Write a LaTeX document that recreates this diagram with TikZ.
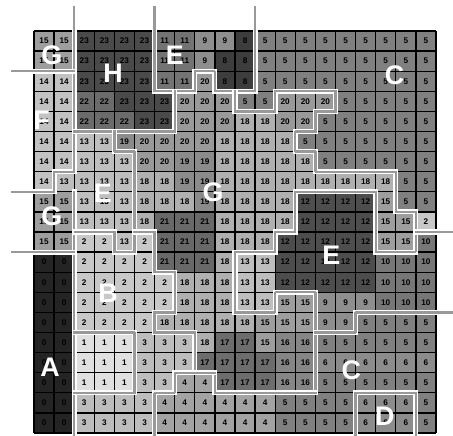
\documentclass[tikz,border=0pt]{standalone}
\usepackage{fontspec}
\setmainfont{Liberation Sans}
\usepackage{tikz}
\usetikzlibrary{positioning}
\definecolor{val0}{HTML}{242424}
\definecolor{val1}{HTML}{E0E0E0}
\definecolor{val2}{HTML}{C8C8C8}
\definecolor{val3}{HTML}{BDBDBD}
\definecolor{val4}{HTML}{A3A3A3}
\definecolor{val5}{HTML}{808080}
\definecolor{val6}{HTML}{8C8C8C}
\definecolor{val8}{HTML}{3D3D3D}
\definecolor{val9}{HTML}{8E8E8E}
\definecolor{val10}{HTML}{777777}
\definecolor{val11}{HTML}{737373}
\definecolor{val12}{HTML}{4D4D4D}
\definecolor{val13}{HTML}{BEBEBE}
\definecolor{val14}{HTML}{C2C2C2}
\definecolor{val15}{HTML}{9E9E9E}
\definecolor{val16}{HTML}{868686}
\definecolor{val17}{HTML}{6D6D6D}
\definecolor{val18}{HTML}{B0B0B0}
\definecolor{val19}{HTML}{8B8B8B}
\definecolor{val20}{HTML}{999999}
\definecolor{val21}{HTML}{686868}
\definecolor{val22}{HTML}{6B6B6B}
\definecolor{val23}{HTML}{4A4A4A}
\tikzset{
  cell/.style     = {rectangle, inner sep=0pt, minimum size=0.5cm,
                     text=black, font=\fontsize{5.8}{6}\selectfont\bfseries},
  gridline/.style = {draw=black, line width=0.9pt},
  region/.style   = {draw=white, line width=3.6pt, line join=miter, line cap=rect,
                     postaction={draw=black!40, line width=1.6pt,
                     dash pattern=on 0.9pt off 0.9pt}},
  tag/.style      = {text=white, inner sep=0pt,
                     font=\fontsize{19}{19}\selectfont\bfseries},
}

\begin{document}
\begin{tikzpicture}[x=0.5cm, y=-0.5cm]

  \useasboundingbox (-1.692,-1.542) rectangle (20.846,20.149);

  % cells
  \foreach \vals [count=\r from 0] in {
    {15,15,23,23,23,23,11,11,9,9,8,5,5,5,5,5,5,5,5,5},
    {15,15,23,23,23,23,11,11,9,8,8,5,5,5,5,5,5,5,5,5},
    {14,14,23,23,23,23,11,11,20,8,8,5,5,5,5,5,5,5,5,5},
    {14,14,22,22,23,23,23,20,20,20,5,5,20,20,20,5,5,5,5,5},
    {14,14,22,22,22,23,23,20,20,20,18,18,20,20,5,5,5,5,5,5},
    {14,14,13,13,19,20,20,20,20,18,18,18,18,5,5,5,5,5,5,5},
    {14,14,13,13,13,20,20,19,19,18,18,18,18,18,5,5,5,5,5,5},
    {14,13,13,13,13,18,18,19,19,18,18,18,18,18,18,18,18,18,5,5},
    {15,15,13,13,13,18,18,18,19,18,18,18,18,12,12,12,12,15,5,5},
    {15,15,13,13,13,18,21,21,21,18,18,18,18,12,12,12,12,15,15,2},
    {15,15,2,2,13,2,21,21,21,18,18,18,12,12,12,12,12,15,15,10},
    {0,0,2,2,2,2,21,21,21,18,13,13,12,12,12,12,12,10,10,10},
    {0,0,2,2,2,2,2,18,18,18,13,13,12,12,12,12,12,10,10,10},
    {0,0,2,2,2,2,2,18,18,18,13,13,15,15,9,9,9,10,10,10},
    {0,0,2,2,2,2,18,18,18,18,18,15,15,15,9,9,5,5,5,5},
    {0,0,1,1,1,3,3,3,18,17,17,15,16,16,5,5,5,5,5,5},
    {0,0,1,1,1,3,3,3,17,17,17,17,16,16,6,6,6,6,6,6},
    {0,0,1,1,1,3,3,4,4,17,17,17,16,16,5,5,5,5,5,5},
    {0,0,3,3,3,3,4,4,4,4,4,4,5,5,5,5,6,6,6,5},
    {0,0,3,3,3,3,4,4,4,4,4,4,5,5,5,5,6,6,6,5}} {
    \foreach \v [count=\c from 0] in \vals {
      \node[cell, fill=val\v] (c-\r-\c) at (\c+0.5,\r+0.5) {\v};
    }
  }

  \foreach \k in {0,...,20} {
    \draw[gridline] (\k,0) -- (\k,20);
    \draw[gridline] (0,\k) -- (20,\k);
  }

  % region borders
  \draw[region] (2,-1.2) -- (2,7) -- (1,7) -- (1,8) -- (-1.1,8);
  \draw[region] (2,8) -- (2,20.2);
  \draw[region] (-1.1,2) -- (2,2);
  \draw[region] (-1.1,11) -- (2,11);
  \draw[region] (6,-1.2) -- (6,3) -- (8,3) -- (8,2) -- (9,2) -- (9,3) -- (11,3) -- (11,-1.2);
  \draw[region] (2,5) -- (7,5) -- (7,3);
  \draw[region] (10,3) -- (10,4) -- (12,4) -- (12,3) -- (15,3) -- (15,4) -- (14,4)
    -- (14,5) -- (13,5) -- (13,6) -- (14,6) -- (14,7) -- (18,7) -- (18,9) -- (19,9)
    -- (19,11) -- (17,11) -- (17,8) -- (13,8) -- (13,10) -- (12,10) -- (12,11)
    -- (10,11) -- (10,14) -- (12,14) -- (12,13) -- (14,13) -- (14,18);
  \draw[region] (19,10) -- (20.9,10);
  \draw[region] (14,15) -- (16,15) -- (16,14) -- (20.9,14);
  \draw[region] (4,5) -- (4,6) -- (5,6) -- (5,11) -- (4,11) -- (4,10) -- (2,10);
  \draw[region] (5,10) -- (6,10) -- (6,12) -- (7,12) -- (7,14) -- (6,14) -- (6,15)
    -- (8,15) -- (8,17) -- (9,17) -- (9,18) -- (14,18);
  \draw[region] (9,17) -- (7,17) -- (7,18) -- (6,18) -- (6,20.2);
  \draw[region] (2,15) -- (5,15) -- (5,18) -- (2,18);
  \draw[region] (16,20.2) -- (16,18) -- (19,18) -- (19,20.2);

  % class letters
  \node[tag] (tagG1) at (0.88,1.19) {G};
  \node[tag] (tagH)  at (3.93,2.09) {H};
  \node[tag] (tagE1) at (7.01,1.19) {E};
  \node[tag] (tagC1) at (17.94,2.19) {C};
  \node[tag] (tagF)  at (0.38,4.43) {F};
  \node[tag] (tagE2) at (3.43,8.06) {E};
  \node[tag] (tagG2) at (8.91,8.01) {G};
  \node[tag] (tagG3) at (0.88,9.24) {G};
  \node[tag] (tagE3) at (14.79,11.14) {E};
  \node[tag] (tagB)  at (3.68,13.05) {B};
  \node[tag] (tagA)  at (0.80,16.72) {A};
  \node[tag] (tagC2) at (15.79,16.87) {C};
  \node[tag] (tagD)  at (17.45,19.19) {D};

\end{tikzpicture}
\end{document}
